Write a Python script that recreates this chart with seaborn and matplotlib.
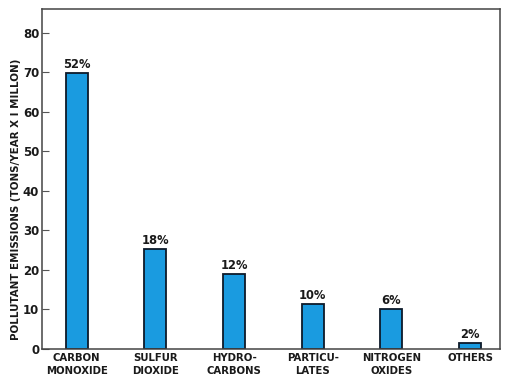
import matplotlib
matplotlib.use("Agg")
import matplotlib.pyplot as plt
import seaborn as sns
import pandas as pd

categories = ["CARBON\nMONOXIDE", "SULFUR\nDIOXIDE", "HYDRO-\nCARBONS",
              "PARTICU-\nLATES", "NITROGEN\nOXIDES", "OTHERS"]
emissions = [69.8, 25.2, 19.0, 11.4, 10.0, 1.6]
percent_labels = ["52%", "18%", "12%", "10%", "6%", "2%"]
y_ticks = [0, 10, 20, 30, 40, 50, 60, 70, 80]
y_label = "POLLUTANT EMISSIONS (TONS/YEAR X I MILLON)"

sns.set_theme(style="white")
plt.rcParams['font.family'] = ['DejaVu Sans']

df = pd.DataFrame({"cat": categories, "val": emissions})

fig = plt.figure(figsize=(5.07, 3.84), dpi=100)
ax = fig.add_axes([0.083, 0.091, 0.903, 0.886])

sns.barplot(data=df, x="cat", y="val", ax=ax, color="#1a9be0",
            width=0.28, edgecolor="#0d1a2a", linewidth=1.3, saturation=1)

ax.bar_label(ax.containers[0], labels=percent_labels, padding=1.5,
             fontsize=8.3, fontweight="bold", color="#1a1a1a")

ax.set_xlim(-0.44, 5.38)
ax.set_ylim(0, 86)
ax.set_yticks(y_ticks)
ax.set_yticklabels([str(t) for t in y_ticks], fontsize=8.5, fontweight="bold", color="#1a1a1a")
ax.set_xticks(range(len(categories)))
ax.set_xticklabels(categories, fontsize=7.3, fontweight="bold", color="#1a1a1a", linespacing=1.3)
ax.tick_params(axis="y", direction="in", length=5, width=0.8, pad=2, left=True, color="#555555")
ax.tick_params(axis="x", length=0, pad=3)
ax.set_xlabel("")
ax.set_ylabel(y_label, fontsize=7.4, fontweight="bold", color="#1a1a1a")
ax.yaxis.set_label_coords(-0.045, 0.44)

for s in ax.spines.values():
    s.set_visible(True)
    s.set_color("#444444")
    s.set_linewidth(1.1)

fig.savefig("out.png", dpi=100, facecolor="white")
